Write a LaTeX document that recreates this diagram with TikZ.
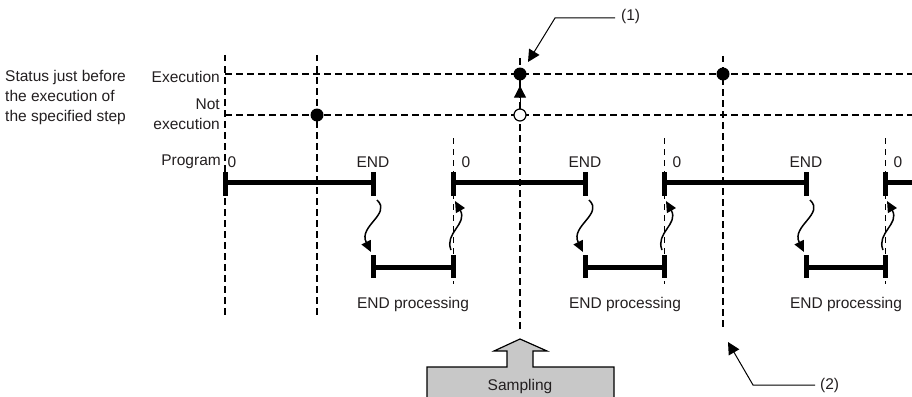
\documentclass[tikz,border=0pt]{standalone}
\usepackage{fontspec}
\setmainfont{Liberation Sans}
\usepackage{tikz}
\usetikzlibrary{positioning, calc, arrows.meta}
\definecolor{sampgray}{RGB}{200,200,200}
\definecolor{txtgray}{RGB}{35,31,32}

\begin{document}
\begin{tikzpicture}[x=1pt, y=-1pt,
      lbl/.style={inner sep=0pt, text=txtgray, font=\fontsize{15.5}{20}\selectfont},
      grid/.style={line width=1.3pt, dash pattern=on 6.5pt off 4.5pt},
      shortgrid/.style={line width=1pt, dash pattern=on 6pt off 5pt},
      bar/.style={line width=5pt},
      tick/.style={line width=5pt},
      dot/.style={circle, fill=black, inner sep=0pt, minimum size=13pt},
      hdot/.style={circle, draw, fill=white, line width=1.2pt, inner sep=0pt, minimum size=12pt},
      arrow/.style={-{Triangle[length=12pt, width=12pt]}, line width=1pt},
      wiggle/.style={-{Triangle[length=11pt, width=10pt]}, line width=1.5pt}
    ]
      \useasboundingbox (0,0) rectangle (912,396);
      \clip (0,0) rectangle (912,396);

      % status axis
      \node[lbl, anchor=west, align=left] (status) at (5,97) {Status just before\\the execution of\\the specified step};
      \node[lbl, anchor=east] (exe) at (220,77) {Execution};
      \node[lbl, anchor=east, align=right] (notexe) at (220,114) {Not\\execution};

      \draw[grid] (225,74) -- (912,74);
      \draw[grid] (225,115) -- (912,115);

      \draw[grid] (225,55) -- (225,318);
      \draw[grid] (317,55) -- (317,318);
      \draw[grid] (520,58) -- (520,330);
      \draw[grid] (723,56) -- (723,330);

      \draw[shortgrid] (453,138) -- (453,284);
      \draw[shortgrid] (664,138) -- (664,284);
      \draw[shortgrid] (885,138) -- (885,284);

      \node[dot] (d1) at (317,115) {};
      \node[dot] (d2) at (520,74) {};
      \node[hdot] (h1) at (520,115) {};
      \node[dot] (d3) at (723,74) {};
      \draw[arrow, shorten >=5pt] (h1) -- (d2);

      % program scans
      \node[lbl, anchor=east] (prog) at (221,162) {Program};
      \coordinate (s1) at (225,182);
      \coordinate (e1) at (373,182);
      \coordinate (s2) at (453,182);
      \coordinate (e2) at (585,182);
      \coordinate (s3) at (664,182);
      \coordinate (e3) at (806,182);
      \coordinate (s4) at (885,182);

      \draw[bar] (s1) -- (e1);
      \draw[bar] (s2) -- (e2);
      \draw[bar] (s3) -- (e3);
      \draw[bar] (s4) -- (912,182);
      \foreach \p in {s1,e1,s2,e2,s3,e3,s4}
        \draw[tick] ([yshift=10pt]\p) -- ([yshift=-14pt]\p);

      \node[lbl] (z1) at (232,162) {0};
      \node[lbl] (z2) at (466,162) {0};
      \node[lbl] (z3) at (677,162) {0};
      \node[lbl] (z4) at (898,162) {0};
      \node[lbl] (end1) at (373,162) {END};
      \node[lbl] (end2) at (585,162) {END};
      \node[lbl] (end3) at (806,162) {END};

      % END processing
      \coordinate (p1) at (373,267);
      \coordinate (q1) at (453,267);
      \coordinate (p2) at (585,267);
      \coordinate (q2) at (664,267);
      \coordinate (p3) at (806,267);
      \coordinate (q3) at (885,267);
      \draw[bar] (p1) -- (q1);
      \draw[bar] (p2) -- (q2);
      \draw[bar] (p3) -- (q3);
      \foreach \p in {p1,q1,p2,q2,p3,q3}
        \draw[tick] ([yshift=12pt]\p) -- ([yshift=-11pt]\p);

      \foreach \a/\b in {e1/p1, e2/p2, e3/p3} {
        \draw[wiggle] ([xshift=4pt,yshift=-18pt]\a) .. controls ([xshift=19pt,yshift=-32pt]\a) and ([xshift=-15pt,yshift=-44pt]\a) .. ([xshift=-2pt,yshift=15pt]\b);
      }
      \foreach \a/\b in {q1/s2, q2/s3, q3/s4} {
        \draw[wiggle] ([xshift=-2pt,yshift=17pt]\a) .. controls ([xshift=-9pt,yshift=34pt]\a) and ([xshift=15pt,yshift=-42pt]\b) .. ([xshift=2pt,yshift=-19pt]\b);
      }

      \node[lbl] (ep1) at (413,304) {END processing};
      \node[lbl] (ep2) at (625,304) {END processing};
      \node[lbl] (ep3) at (846,304) {END processing};

      % callouts
      \node[lbl, anchor=west] (c1) at (621,16) {(1)};
      \coordinate (c1k) at (555,18);
      \coordinate (c1t) at (528,62);
      \draw[arrow, shorten <=6pt] (c1.west |- c1k) -- (c1k) -- (c1t);

      \node[lbl, anchor=west] (c2) at (820,385) {(2)};
      \coordinate (c2k) at (753,385);
      \coordinate (c2t) at (728,342);
      \draw[arrow, shorten <=5pt] (c2.west) -- (c2k) -- (c2t);

      % sampling
      \draw[line width=1.2pt, fill=sampgray] (427,402) -- (427,367) -- (507,367) -- (507,351) -- (494,351)
        -- (520,339) -- (547,351) -- (533,351) -- (533,367) -- (614,367) -- (614,402) -- cycle;
      \node[lbl] (samp) at (520,386) {Sampling};
    \end{tikzpicture}
\end{document}
